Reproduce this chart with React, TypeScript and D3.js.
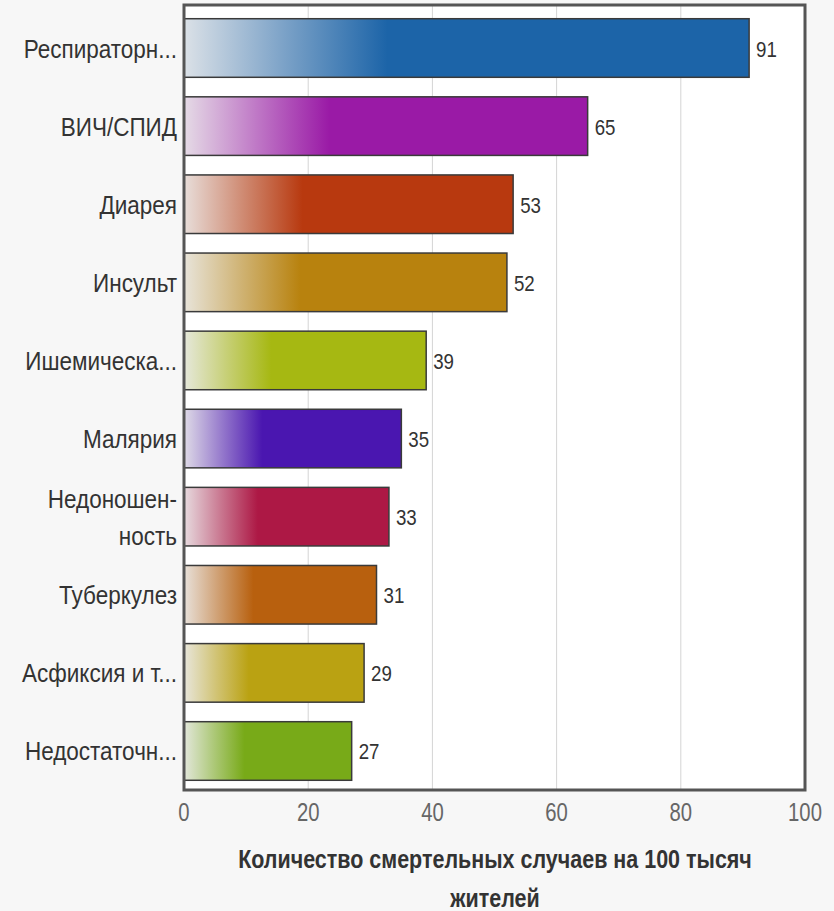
import React from "react";
import * as d3 from "d3";

const categories: string[][] = [
  ["Респираторн..."],
  ["ВИЧ/СПИД"],
  ["Диарея"],
  ["Инсульт"],
  ["Ишемическа..."],
  ["Малярия"],
  ["Недоношен-", "ность"],
  ["Туберкулез"],
  ["Асфиксия и т..."],
  ["Недостаточн..."],
];
const values: number[] = [91, 65, 53, 52, 39, 35, 33, 31, 29, 27];
const colors: string[] = [
  "#1c64a8",
  "#9a1aa6",
  "#b8390f",
  "#b8820e",
  "#a6b812",
  "#4a16b0",
  "#ad1845",
  "#b8600e",
  "#baa212",
  "#78aa18",
];
const ticks: number[] = [0, 20, 40, 60, 80, 100];
const titleLines: string[] = ["Количество смертельных случаев на 100 тысяч", "жителей"];

const W = 834;
const H = 911;
const FONT = "'Liberation Sans', Arial, Helvetica, sans-serif";

function NText(props: {
  x: number;
  y: number;
  sx: number;
  anchor?: "start" | "middle" | "end";
  size: number;
  fill: string;
  bold?: boolean;
  children: React.ReactNode;
}) {
  return (
    <text
      transform={`translate(${props.x},${props.y}) scale(${props.sx},1)`}
      textAnchor={props.anchor || "start"}
      fontSize={props.size}
      fontWeight={props.bold ? "bold" : "normal"}
      fill={props.fill}
    >
      {props.children}
    </text>
  );
}

export default function App() {
  const x = d3.scaleLinear().domain([0, 100]).range([184, 805]);
  const y = d3
    .scaleBand<number>()
    .domain(d3.range(values.length))
    .range([7, 792])
    .paddingInner(0.25)
    .paddingOuter(0.15);
  const bw = y.bandwidth();

  return (
    <svg
      width={W}
      height={H}
      style={{ position: "absolute", left: 0, top: 0, display: "block" }}
      fontFamily={FONT}
    >
      <defs>
        {colors.map((c, i) => {
          const start = d3.interpolateRgb("#ececec", c)(0.08);
          const mid = d3.interpolateRgb("#ececec", c)(0.55);
          return (
            <linearGradient key={i} id={`g${i}`} x1="0" x2="1" y1="0" y2="0">
              <stop offset="0" stopColor={start} />
              <stop offset="0.18" stopColor={mid} />
              <stop offset="0.36" stopColor={c} />
              <stop offset="1" stopColor={c} />
            </linearGradient>
          );
        })}
      </defs>
      <rect x={0} y={0} width={W} height={H} fill="#f7f7f7" />
      <rect x={x(0)} y={5} width={x(100) - x(0)} height={785} fill="#ffffff" />
      {ticks
        .filter((t) => t > 0 && t < 100)
        .map((t) => (
          <line key={t} x1={x(t)} x2={x(t)} y1={5} y2={790} stroke="#d4d4d4" strokeWidth={1} />
        ))}
      {values.map((v, i) => {
        const cy = y(i)! + bw / 2;
        const lines = categories[i];
        const lh = 37;
        return (
          <g key={i}>
            <rect
              x={x(0)}
              y={y(i)!}
              width={x(v) - x(0)}
              height={bw}
              fill={`url(#g${i})`}
              stroke="#3a3a3a"
              strokeWidth={1.5}
            />
            <NText x={x(v) + 7} y={cy + 8.5} sx={0.85} size={22} fill="#333">
              {v}
            </NText>
            {lines.map((line, k) => (
              <NText
                key={k}
                x={177}
                y={cy + 9.5 - ((lines.length - 1) * lh) / 2 + k * lh}
                sx={0.9}
                anchor="end"
                size={25}
                fill="#333"
              >
                {line}
              </NText>
            ))}
          </g>
        );
      })}
      <rect
        x={x(0)}
        y={5}
        width={x(100) - x(0)}
        height={785}
        fill="none"
        stroke="#555"
        strokeWidth={3}
      />
      {ticks.map((t) => (
        <NText key={t} x={x(t)} y={821} sx={0.78} anchor="middle" size={26} fill="#666">
          {t}
        </NText>
      ))}
      {titleLines.map((l, k) => (
        <NText key={k} x={495} y={868 + k * 39} sx={0.86} anchor="middle" size={25} bold fill="#333">
          {l}
        </NText>
      ))}
    </svg>
  );
}
